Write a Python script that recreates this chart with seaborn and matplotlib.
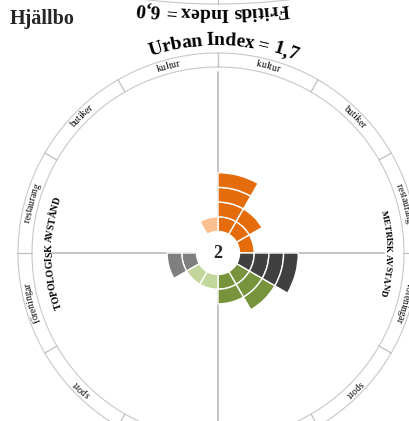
import numpy as np
import matplotlib
matplotlib.use("Agg")
import matplotlib.pyplot as plt
import seaborn as sns
from matplotlib.font_manager import FontProperties

# Data
omrade = "Hjällbo"
kategorier = ["kultur", "butiker", "restaurang", "föreningar", "sport", ""]
metrisk = [4, 2, 1, 4, 3, 2]        # höger halva (metrisk avstånd)
topologisk = [1, 0, 0, 2, 1, 1]     # vänster halva (topologisk avstånd)
farg_metrisk = ["#E46C0A", "#E46C0A", "#E46C0A", "#404040", "#77933C", "#77933C"]
farg_topologisk = ["#FAC090", "#FAC090", "#FAC090", "#7F7F7F", "#C3D69B", "#C3D69B"]
urban_index = "1,7"
fritids_index = "6,0"   # hör till diagrammet ovanför
mitt_varde = "2"

sns.set_style("white")
plt.rcParams['font.family'] = ['Liberation Serif', 'DejaVu Serif']

W, H, DPI = 410, 421, 100
CX, CY = 218, 253          # centrum i bildpixlar (från toppen)
RMAX = 240
R0 = 21.5                  # hålets radie
STEG = 14.7                # ett segment
R_IN, R_UT = 186, 200      # yttre ringen
LINJE = "#BFBFBF"
RING = "#C8C8C8"

fig = plt.figure(figsize=(W / DPI, H / DPI), dpi=DPI)
renderer = fig.canvas.get_renderer()


def polar_ax(cx, cy, rmax=RMAX):
    ax = fig.add_axes([(cx - rmax) / W, (H - cy - rmax) / H, 2 * rmax / W, 2 * rmax / H],
                      projection='polar')
    ax.set_theta_zero_location('N')
    ax.set_theta_direction(-1)
    ax.set_ylim(0, rmax)
    ax.set_axis_off()
    ax.patch.set_visible(False)
    return ax


def bojd_text(ax, s, phi_c, r_bas, size, weight='normal'):
    # text längs cirkeln, medurs, med toppen utåt
    fp = FontProperties(family='Liberation Serif', size=size, weight=weight)

    def bredd(t):
        if not t.strip():
            return 0.0
        return renderer.get_text_width_height_descent(t, fp, ismath=False)[0]

    tot = bredd(s)
    r_mitt = r_bas + size * DPI / 72 * 0.3
    for i, ch in enumerate(s):
        if ch == ' ':
            continue
        pos = bredd(s[:i + 1]) - bredd(ch) / 2 - tot / 2
        phi = phi_c + np.degrees(pos / r_mitt)
        ax.text(np.deg2rad(phi), r_bas, ch, rotation=-phi, rotation_mode='anchor',
                ha='center', va='baseline', fontproperties=fp, color='black', zorder=6)


def ring(ax, r_in, r_ut):
    th = np.linspace(0, 2 * np.pi, 1441)
    ax.plot(th, np.full_like(th, r_in), color=RING, lw=0.8, zorder=1)
    ax.plot(th, np.full_like(th, r_ut), color=RING, lw=0.8, zorder=1)


ax = polar_ax(CX, CY)

# axlar genom centrum
for a, r in [(0, 181), (180, 181), (90, 166), (270, 166)]:
    ax.plot([np.deg2rad(a)] * 2, [0, r], color=LINJE, lw=1.3, zorder=1)

# yttre ring med avdelare
ring(ax, R_IN, R_UT)
for a in range(0, 360, 30):
    ax.plot([np.deg2rad(a)] * 2, [R_IN, R_UT], color=LINJE, lw=0.9, zorder=1)

# staplar, ett segment i taget
bredd = np.deg2rad(30)
vinklar = 15 + 30 * np.arange(len(kategorier))
for i in range(len(kategorier)):
    for k in range(metrisk[i]):
        ax.bar(np.deg2rad(vinklar[i]), STEG, bottom=R0 + k * STEG, width=bredd,
               color=farg_metrisk[i], edgecolor='white', linewidth=1.0, zorder=3)
    for k in range(topologisk[i]):
        ax.bar(np.deg2rad(-vinklar[i]), STEG, bottom=R0 + k * STEG, width=bredd,
               color=farg_topologisk[i], edgecolor='white', linewidth=1.0, zorder=3)

th = np.linspace(0, 2 * np.pi, 200)
ax.fill_between(th, 0, R0, color='white', zorder=2)
ax.text(0, 0, mitt_varde, ha='center', va='center', fontsize=13, fontweight='bold', zorder=6)

# etiketter i ringen
for i, kat in enumerate(kategorier):
    if kat:
        bojd_text(ax, kat, vinklar[i], 190.5, 7)
        bojd_text(ax, kat, -vinklar[i], 190.5, 7)

bojd_text(ax, "TOPOLOGISK AVSTÅND", 270, 166, 7, 'bold')
bojd_text(ax, "METRISK AVSTÅND", 90, 168, 6.5, 'bold')
bojd_text(ax, "Urban Index = " + urban_index, 1.5, 208, 14, 'bold')

# diagrammet ovanför (bara nederkanten syns)
R2 = 600
ax2 = polar_ax(CX, 4 - R2, R2 + 60)
ring(ax2, R2 - 14, R2)
ax2.plot([np.pi] * 2, [R2 - 14, R2], color=LINJE, lw=0.9, zorder=1)
bojd_text(ax2, "Fritids Index = " + fritids_index, 180.5, R2 + 4, 14, 'bold')

fig.text(10 / W, 1 - 24 / H, omrade, fontsize=14.5, fontweight='bold', va='baseline')

fig.savefig("out.png", dpi=DPI)
